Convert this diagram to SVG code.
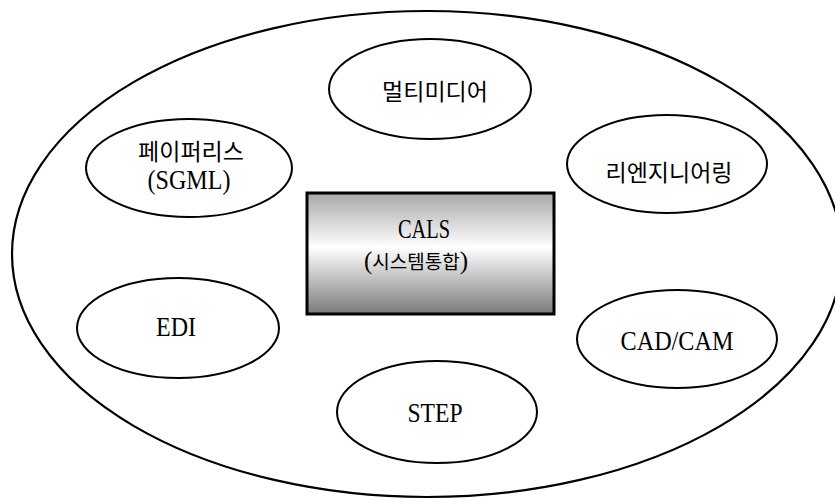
<svg xmlns="http://www.w3.org/2000/svg" width="835" height="500" viewBox="0 0 835 500">
  <style>
    .ring { fill: #ffffff; stroke: #000000; stroke-width: 2.2; }
    .node { fill: #ffffff; stroke: #000000; stroke-width: 2; }
    .core { fill: url(#coreFill); stroke: #000000; stroke-width: 3; }
    .ko { font-family: "Noto Sans CJK KR", "Noto Sans", sans-serif; font-size: 23px; fill: #000000; text-anchor: middle; }
    .en { font-family: "Liberation Serif", "Noto Sans CJK KR", serif; font-size: 28px; fill: #000000; text-anchor: middle; }
  </style>
  <defs>
    <linearGradient id="coreFill" x1="0" y1="0" x2="0" y2="1">
      <stop offset="0" stop-color="#a8a8a8"/>
      <stop offset="0.45" stop-color="#ffffff"/>
      <stop offset="1" stop-color="#7a7a7a"/>
    </linearGradient>
  </defs>

  <rect width="835" height="500" fill="#ffffff"/>

  <!-- outer boundary -->
  <g id="boundary">
    <ellipse class="ring" cx="427" cy="254" rx="415" ry="243"/>
  </g>

  <!-- connectors: none drawn -->
  <g id="connectors"/>

  <g id="multimedia">
    <ellipse class="node" cx="430" cy="89" rx="101" ry="50"/>
    <text class="ko" x="435" y="100">멀티미디어</text>
  </g>

  <g id="paperless">
    <ellipse class="node" cx="189" cy="168" rx="103" ry="49"/>
    <text class="ko" x="191" y="160">페이퍼리스</text>
    <text class="en" x="189" y="189" textLength="83" lengthAdjust="spacingAndGlyphs">(SGML)</text>
  </g>

  <g id="reengineering">
    <ellipse class="node" cx="667" cy="164" rx="100" ry="49"/>
    <text class="ko" x="669" y="181">리엔지니어링</text>
  </g>

  <g id="cals">
    <rect class="core" x="307" y="193" width="247" height="121"/>
    <text class="en" x="424" y="238" textLength="52" lengthAdjust="spacingAndGlyphs">CALS</text>
    <text x="416" y="269" text-anchor="middle" font-size="19" fill="#000000"><tspan font-family="Liberation Serif, serif" font-size="25">(</tspan><tspan font-family="Noto Sans CJK KR, sans-serif">시스템통합</tspan><tspan font-family="Liberation Serif, serif" font-size="25">)</tspan></text>
  </g>

  <g id="edi">
    <ellipse class="node" cx="178" cy="328" rx="101" ry="50"/>
    <text class="en" x="176" y="336" textLength="40" lengthAdjust="spacingAndGlyphs">EDI</text>
  </g>

  <g id="cadcam">
    <ellipse class="node" cx="677" cy="339" rx="100" ry="49"/>
    <text class="en" x="677" y="350" textLength="113" lengthAdjust="spacingAndGlyphs">CAD/CAM</text>
  </g>

  <g id="step">
    <ellipse class="node" cx="437" cy="412" rx="100" ry="51"/>
    <text class="en" x="435" y="422" textLength="55" lengthAdjust="spacingAndGlyphs">STEP</text>
  </g>
</svg>
